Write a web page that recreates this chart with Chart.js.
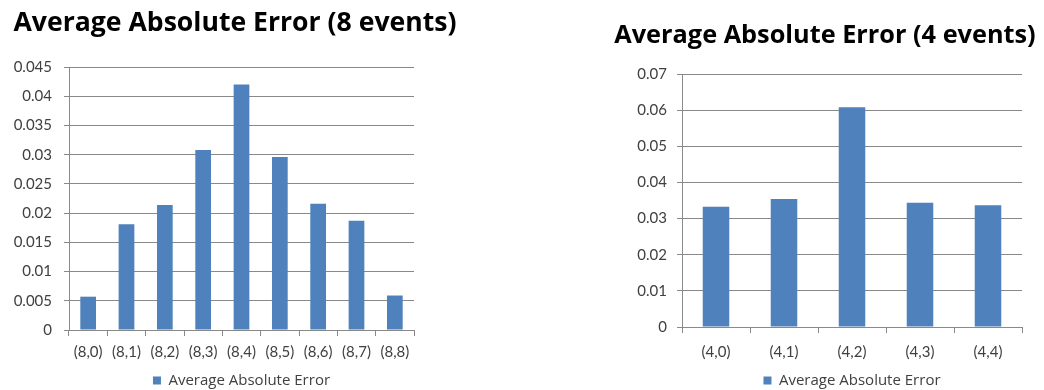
<!DOCTYPE html>
<html>
<head>
<meta charset="utf-8">
<script src="https://cdn.jsdelivr.net/npm/chart.js@4"></script>
<style>
  body { margin: 0; background: #fff; width: 1044px; height: 390px; overflow: hidden; }
  .box { position: absolute; top: 0; height: 398px; }
  #left { left: 0; width: 470px; }
  #right { left: 600px; width: 444px; }
  .title {
    position: absolute; text-align: center; white-space: nowrap;
    font-family: 'Open Sans', Lato, sans-serif; font-weight: bold;
    color: #000; line-height: 1;
  }
  #title8 { left: 0; width: 470px; top: 8px; font-size: 26.6px; }
  #title4 { left: 600px; width: 450px; top: 21px; font-size: 25.3px; }
</style>
</head>
<body>
<div class="box" id="left"><canvas id="chart8"></canvas></div>
<div class="box" id="right"><canvas id="chart4"></canvas></div>
<div class="title" id="title8">Average Absolute Error (8 events)</div>
<div class="title" id="title4">Average Absolute Error (4 events)</div>
<script>
// ─── Data ───
const labels8 = ['(8,0)', '(8,1)', '(8,2)', '(8,3)', '(8,4)', '(8,5)', '(8,6)', '(8,7)', '(8,8)'];
const errors8 = [0.0057, 0.0181, 0.0214, 0.0308, 0.0420, 0.0296, 0.0216, 0.0187, 0.0059];

const labels4 = ['(4,0)', '(4,1)', '(4,2)', '(4,3)', '(4,4)'];
const errors4 = [0.0333, 0.0354, 0.0608, 0.0344, 0.0337];

const seriesName = 'Average Absolute Error';

// ─── Defaults ───
Chart.defaults.font.family = "Lato, 'Open Sans', sans-serif";
Chart.defaults.color = '#404040';

const BAR = '#4F81BD';
const GRID = '#898989';

// Excel-style tick text: 0.04 rather than 0.040
const trimTick = v => String(+v.toFixed(3));

function makeChart(id, labels, values, o) {
  return new Chart(document.getElementById(id), {
    type: 'bar',
    data: {
      labels,
      datasets: [{
        label: seriesName,
        data: values,
        backgroundColor: BAR,
        categoryPercentage: 1,
        barPercentage: o.barPct,
      }],
    },
    options: {
      responsive: true,
      maintainAspectRatio: false,
      animation: false,
      layout: { padding: { left: 0, right: o.padRight, top: o.padTop, bottom: 0 } },
      plugins: {
        title: { display: false },
        legend: {
          position: 'bottom',
          fullSize: false, // centre the legend under the plot area
          labels: {
            boxWidth: 8,
            boxHeight: 8,
            padding: 4,
            color: '#404040',
            font: { family: "'Open Sans', Lato, sans-serif", size: 15 },
          },
        },
        tooltip: { enabled: false },
      },
      scales: {
        x: {
          afterFit: s => { s.height = o.xHeight; },
          grid: { drawOnChartArea: false, color: GRID, tickLength: 6 },
          border: { color: GRID },
          ticks: { padding: o.xPad, font: { size: 15 }, maxRotation: 0, autoSkip: false },
        },
        y: {
          min: 0,
          max: o.max,
          afterFit: s => { s.width = o.yWidth; },
          grid: { color: GRID, tickLength: 5 },
          border: { color: GRID },
          ticks: { stepSize: o.step, padding: o.yPad, font: { size: 15 }, callback: trimTick },
        },
      },
    },
  });
}

makeChart('chart8', labels8, errors8, {
  padTop: 67, padRight: 56, yWidth: 69, yPad: 12, xHeight: 39, xPad: 7,
  max: 0.045, step: 0.005, barPct: 0.41,
});

makeChart('chart4', labels4, errors4, {
  padTop: 74, padRight: 22, yWidth: 82, yPad: 10, xHeight: 42, xPad: 10,
  max: 0.07, step: 0.01, barPct: 0.39,
});
</script>
</body>
</html>
